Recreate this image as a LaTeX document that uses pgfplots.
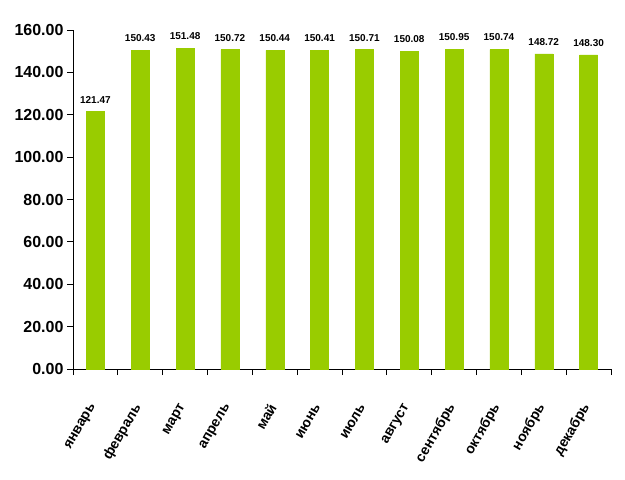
\documentclass[border=0pt]{standalone}
\usepackage{pgfplots}
\pgfplotsset{compat=1.18}
\usetikzlibrary{calc}
\usepackage{fontspec}
\setmainfont{Liberation Sans}
\definecolor{bargreen}{RGB}{153,204,0}
\begin{document}
\begin{tikzpicture}
\begin{axis}[
  name=ax,
  scale only axis,
  width=538pt, height=339pt,
  xmin=-0.5, xmax=11.5,
  ymin=0, ymax=160,
  axis x line*=bottom,
  axis y line*=left,
  axis line style={black, line width=1pt},
  ybar, bar width=18pt,
  xtick={0,...,11},
  xticklabels={январь,февраль,март,апрель,май,июнь,июль,август,сентябрь,октябрь,ноябрь,декабрь},
  major x tick style={draw=none},
  minor xtick={-0.5,0.5,...,11.5},
  minor tick length=6pt,
  minor x tick style={black, line width=0.8pt},
  ytick={0,20,...,160},
  major tick length=6pt,
  major y tick style={black, line width=0.8pt},
  tick align=outside,
  tick pos=left,
  /pgf/number format/assume math mode=true,
  yticklabel style={font=\fontsize{16}{16}\selectfont\bfseries, /pgf/number format/.cd, fixed, fixed zerofill, precision=2},
  xticklabel style={font=\fontsize{14}{14}\selectfont\bfseries, xshift=-2pt, yshift=-30pt, rotate=60, anchor=east, inner sep=0pt},
  nodes near coords,
  every node near coord/.append style={font=\fontsize{10}{10}\selectfont\bfseries, yshift=5pt, /pgf/number format/.cd, fixed, fixed zerofill, precision=2, assume math mode=true},
  clip=false,
]
\addplot[fill=bargreen, draw=bargreen] coordinates {
 (0,121.47) (1,150.43) (2,151.48) (3,150.72) (4,150.44) (5,150.41)
 (6,150.71) (7,150.08) (8,150.95) (9,150.74) (10,148.72) (11,148.30)};
\end{axis}
\path ($(ax.south west)+(-73pt,-110pt)$) rectangle ($(ax.north east)+(14pt,30pt)$);
\end{tikzpicture}
\end{document}
